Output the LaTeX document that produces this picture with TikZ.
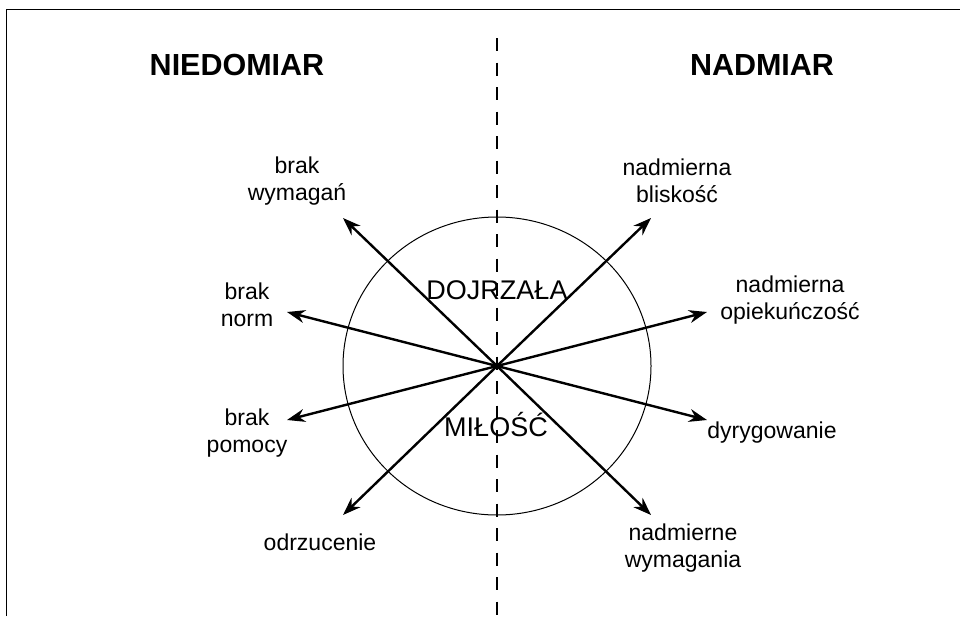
\documentclass[tikz,border=0pt]{standalone}
\usepackage{fontspec}
\setmainfont{Liberation Sans}
\usetikzlibrary{arrows.meta}
\begin{document}
\begin{tikzpicture}[x=1pt,y=-1pt,
  lbl/.style={inner sep=0pt,align=center,font=\fontsize{23}{26.5}\selectfont},
  head/.style={inner sep=0pt,font=\fontsize{30.5}{33}\selectfont\bfseries},
  mid/.style={inner sep=0pt,font=\fontsize{27}{30}\selectfont},
  ray/.style={line width=2.4pt,-{Stealth[length=18pt,width=13pt]}}]
\useasboundingbox (0,0) rectangle (960,616);

% frame (top and left edge)
\draw[line width=1.8pt] (6.5,616) -- (6.5,9.5) -- (960,9.5);

% dividing line
\coordinate (dtop) at (497,38);
\coordinate (dbot) at (497,616);
\draw[line width=2.3pt,dash pattern=on 13pt off 11.5pt] (dtop) -- (dbot);

% circle
\coordinate (c) at (497,366);
\draw[line width=1pt] (c) ellipse [x radius=154, y radius=149];

% headings
\node[head] (nied) at (237,65) {NIEDOMIAR};
\node[head] (nadm) at (762,65) {NADMIAR};

% words inside the circle
\node[mid] (dojr) at (497,290) {DOJRZAŁA};
\node[mid] (milo) at (496,425) {MIŁOŚĆ};

% arrow tips
\coordinate (t1) at (343,218);
\coordinate (t2) at (287,312);
\coordinate (t3) at (287,420);
\coordinate (t4) at (343,515);
\coordinate (t5) at (651,218);
\coordinate (t6) at (707,312);
\coordinate (t7) at (707,420);
\coordinate (t8) at (651,515);

\foreach \t in {t1,t2,t3,t4,t5,t6,t7,t8}
  \draw[ray] (c) -- (\t);

% labels
\node[lbl] (l1) at (297,181) {brak\\wymagań};
\node[lbl] (l2) at (247,305) {brak\\norm};
\node[lbl] (l3) at (247,433) {brak\\pomocy};
\node[lbl] (l4) at (320,542) {odrzucenie};
\node[lbl] (l5) at (677,181) {nadmierna\\bliskość};
\node[lbl] (l6) at (790,300) {nadmierna\\opiekuńczość};
\node[lbl] (l7) at (772,433) {dyrygowanie};
\node[lbl] (l8) at (683,548) {nadmierne\\wymagania};
\end{tikzpicture}
\end{document}
